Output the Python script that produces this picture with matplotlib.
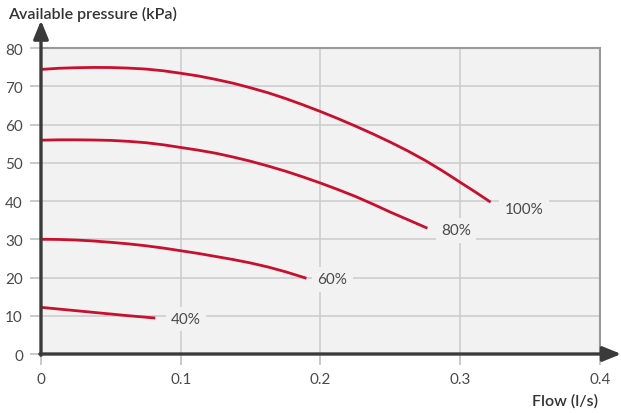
import matplotlib
matplotlib.use("Agg")
import matplotlib.pyplot as plt

# Pump curves: available pressure vs flow at several speeds
flow_100 = [0, 0.0125, 0.025, 0.0375, 0.05, 0.0625, 0.075, 0.0875, 0.1, 0.1125, 0.125,
            0.1375, 0.15, 0.1625, 0.175, 0.1875, 0.2, 0.2125, 0.225, 0.2375, 0.25,
            0.2625, 0.275, 0.2875, 0.3, 0.3109, 0.3218]
pres_100 = [74.4, 74.7, 74.85, 74.92, 74.9, 74.75, 74.5, 74.05, 73.4, 72.7, 71.8,
            70.8, 69.6, 68.3, 66.8, 65.15, 63.4, 61.55, 59.6, 57.55, 55.4,
            53.1, 50.6, 47.85, 44.9, 42.35, 39.7]

flow_80 = [0, 0.0125, 0.025, 0.0375, 0.05, 0.0625, 0.075, 0.0875, 0.1, 0.1125, 0.125,
           0.1375, 0.15, 0.1625, 0.175, 0.1875, 0.2, 0.2125, 0.225, 0.2375, 0.25,
           0.2633, 0.2765]
pres_80 = [55.9, 56.0, 56.0, 55.95, 55.85, 55.6, 55.25, 54.7, 54.0, 53.3, 52.5,
           51.5, 50.4, 49.15, 47.8, 46.3, 44.7, 43.0, 41.2, 39.2, 37.1,
           35.0, 32.9]

flow_60 = [0, 0.0125, 0.025, 0.0375, 0.05, 0.0625, 0.075, 0.0875, 0.1, 0.1125, 0.125,
           0.1375, 0.15, 0.1625, 0.175, 0.19]
pres_60 = [30.0, 29.95, 29.8, 29.55, 29.2, 28.8, 28.3, 27.7, 27.0, 26.3, 25.5,
           24.7, 23.8, 22.75, 21.5, 19.8]

flow_40 = [0, 0.02, 0.04, 0.06, 0.0818]
pres_40 = [12.2, 11.5, 10.8, 10.1, 9.4]

curve_labels = ["100%", "80%", "60%", "40%"]
x_ticks = [0, 0.1, 0.2, 0.3, 0.4]
x_tick_labels = ["0", "0.1", "0.2", "0.3", "0.4"]
y_ticks = [0, 10, 20, 30, 40, 50, 60, 70, 80]

RED = "#c8102e"
BG = "#f2f2f2"
DARK = "#3a3a3a"
TEXT = "#4a4a4a"
FONT = ["Lato", "DejaVu Sans"]

plt.rcParams["font.family"] = FONT

fig = plt.figure(figsize=(6.21, 4.14), dpi=100)
ax = fig.add_axes([0.066, 0.1425, 0.9, 0.7391])
ax.set_facecolor(BG)
ax.set_xlim(0, 0.4)
ax.set_ylim(0, 80)

ax.set_xticks(x_ticks)
ax.set_xticklabels(x_tick_labels)
ax.set_yticks(y_ticks)
ax.grid(True, color="#cccccc", linewidth=1.1)
ax.set_axisbelow(True)
ax.tick_params(axis="both", colors="#bbbbbb", labelcolor=TEXT, length=8,
               width=1.1, labelsize=11, pad=5)

for side in ("top", "right"):
    ax.spines[side].set_color("#999999")
    ax.spines[side].set_linewidth(1.5)
for side in ("left", "bottom"):
    ax.spines[side].set_visible(False)

# label offsets from each curve end, in points
label_offsets = [(10, -4.8), (10, -1.6), (8, -0.7), (11.5, -0.7)]

series = [(flow_100, pres_100), (flow_80, pres_80), (flow_60, pres_60), (flow_40, pres_40)]
for (fx, py), name, off in zip(series, curve_labels, label_offsets):
    ax.plot(fx, py, color=RED, linewidth=2.0, solid_capstyle="butt",
            solid_joinstyle="round", zorder=3)
    ax.annotate(name, xy=(fx[-1], py[-1]), xytext=off, textcoords="offset points",
                ha="left", va="center", fontsize=11, color=TEXT,
                bbox=dict(boxstyle="square,pad=0.35", fc=BG, ec="none"), zorder=4)

# Axis lines with arrowheads
arrow = dict(arrowstyle="-|>,head_length=1.1,head_width=0.45", color=DARK, lw=2.4,
             shrinkA=0, shrinkB=0)
ax.annotate("", xy=(0, 1.09), xytext=(0, -0.004), xycoords="axes fraction",
            arrowprops=arrow, annotation_clip=False, zorder=5)
ax.annotate("", xy=(1.038, 0), xytext=(-0.002, 0), xycoords="axes fraction",
            arrowprops=arrow, annotation_clip=False, zorder=5)

fig.text(0.013, 0.966, "Available pressure (kPa)", ha="left", va="center",
         fontsize=11.5, fontweight="semibold", color="#333333")
fig.text(0.963, 0.031, "Flow (l/s)", ha="right", va="center",
         fontsize=11.5, fontweight="semibold", color="#333333")

fig.savefig("out.png", dpi=100, facecolor="white")
